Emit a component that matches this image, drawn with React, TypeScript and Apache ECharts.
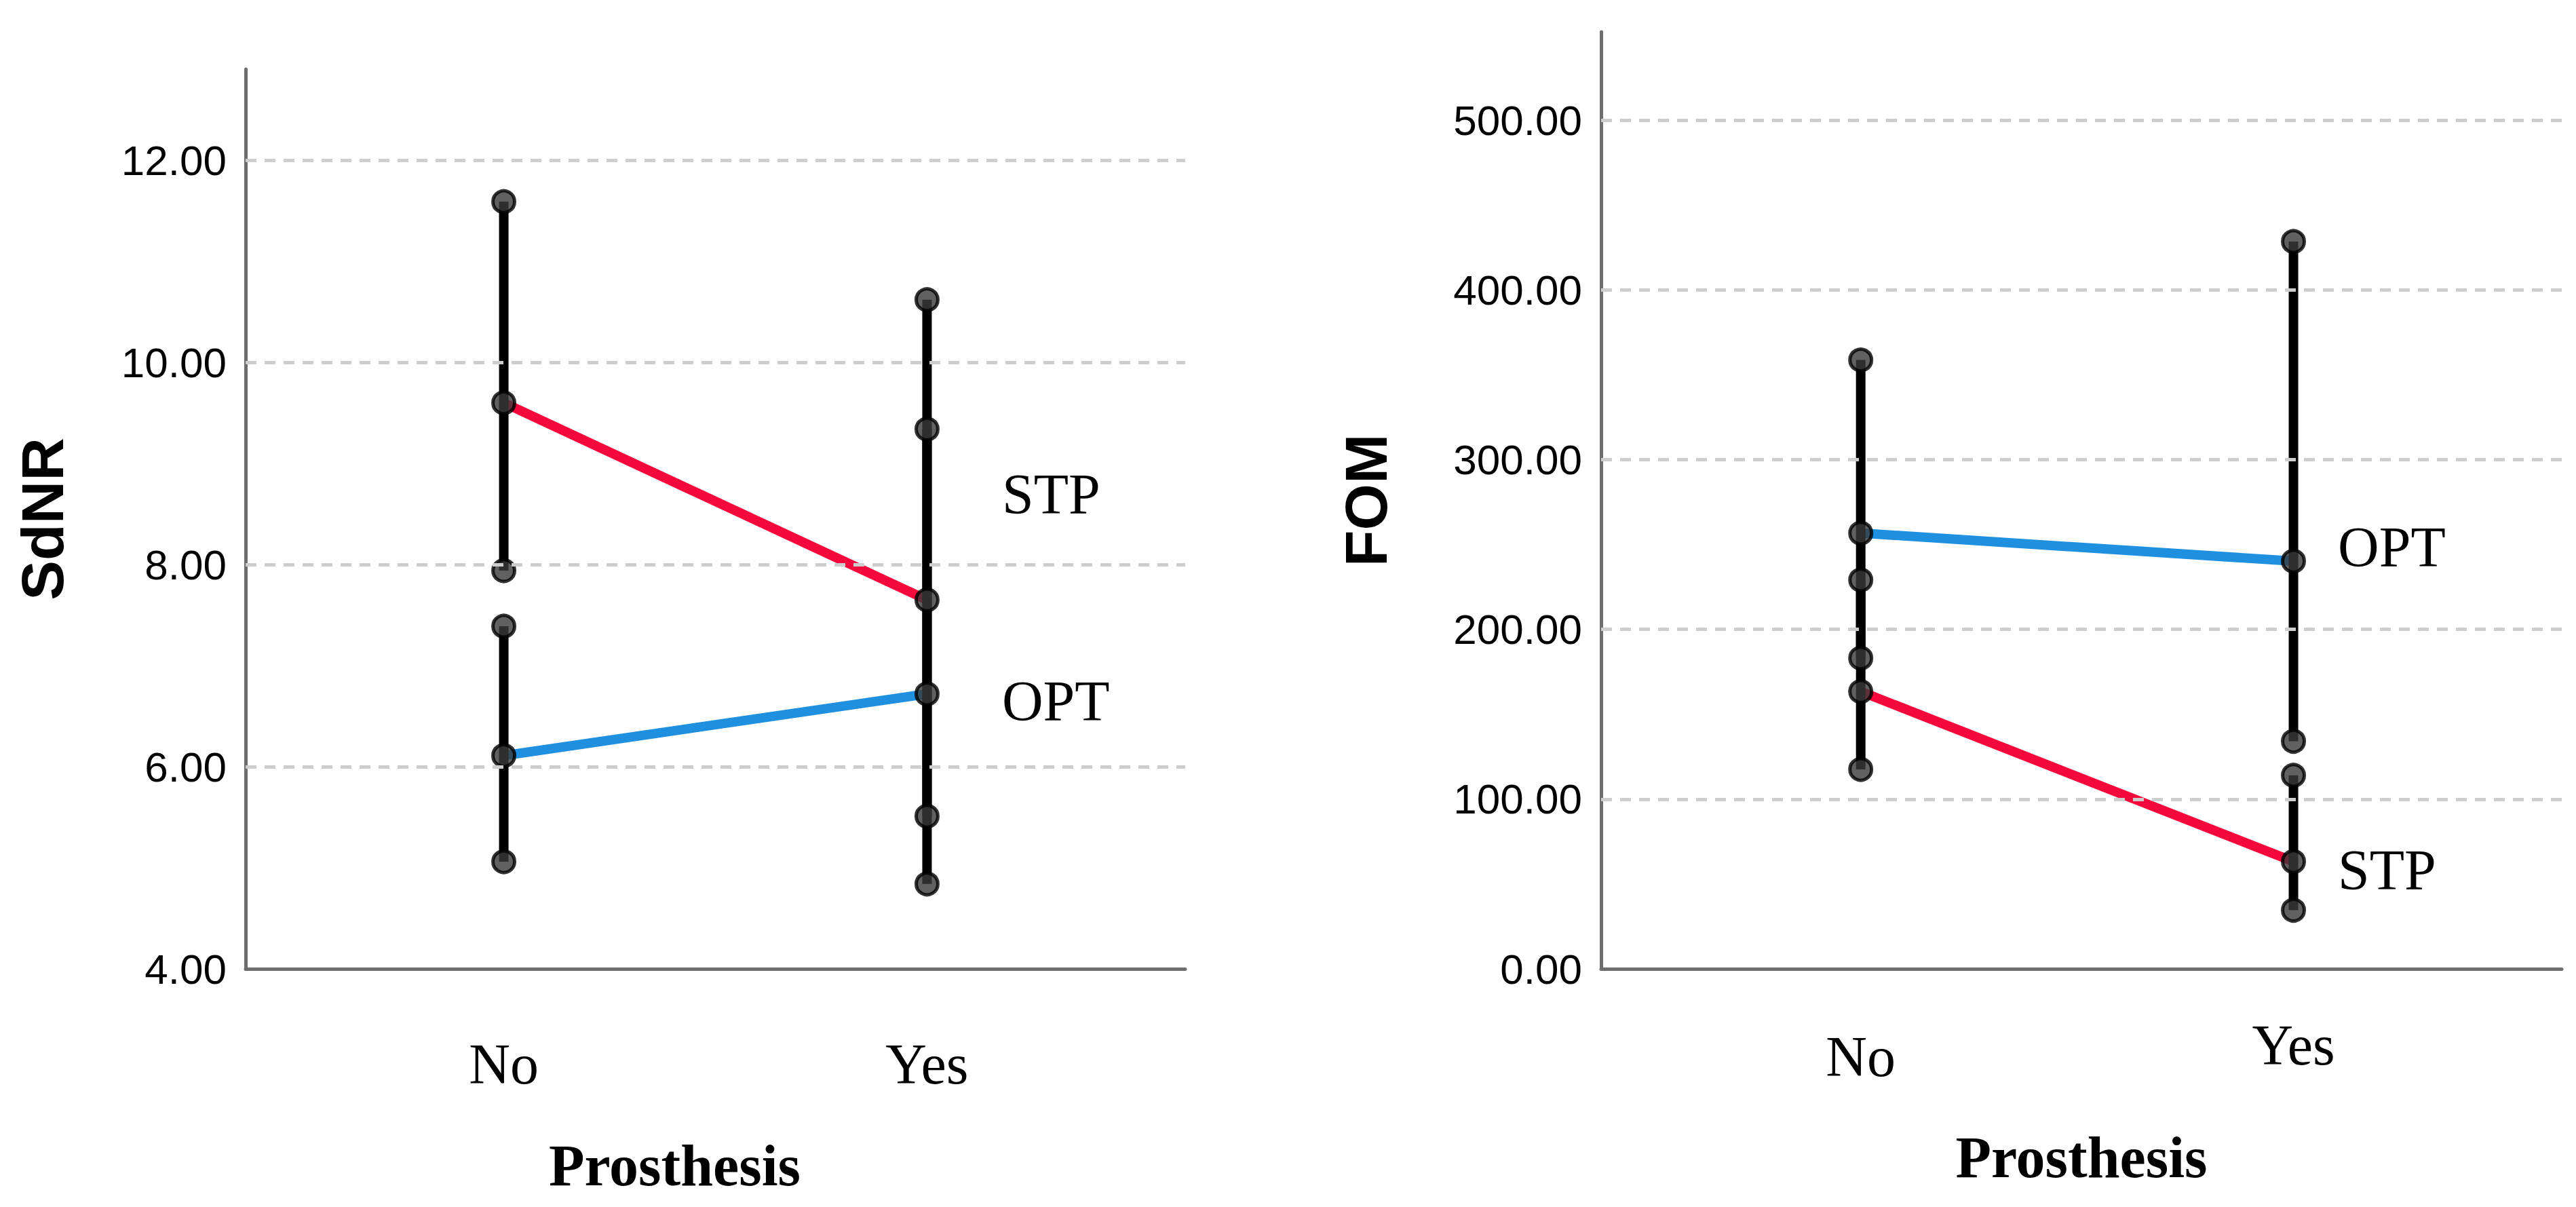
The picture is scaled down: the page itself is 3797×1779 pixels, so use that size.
import React, { useEffect, useRef } from "react";
import * as echarts from "echarts";

// ---- data ----
const groups = ["No", "Yes"];
const groupX = [0, 1];
const measureNames = ["STP", "OPT"];

// SdNR panel
const sdnrStpMean = [9.6, 7.65];
const sdnrStpLow = [7.94, 4.84];
const sdnrStpHigh = [11.59, 10.62];
const sdnrOptMean = [6.11, 6.72];
const sdnrOptLow = [5.06, 5.51];
const sdnrOptHigh = [7.39, 9.34];
const sdnrTicks = [4, 6, 8, 10, 12];

// FOM panel
const fomStpMean = [163.4, 63.2];
const fomStpLow = [117.5, 34.6];
const fomStpHigh = [229.1, 114.0];
const fomOptMean = [256.7, 240.2];
const fomOptLow = [183.1, 134.1];
const fomOptHigh = [358.7, 428.5];
const fomTicks = [0, 100, 200, 300, 400, 500];

const RED = "#f5093c";
const BLUE = "#1f8fe0";
const SANS = "Liberation Sans";
const SERIF = "Liberation Serif";

type Panel = {
  stp: number[][]; // [mean, low, high]
  opt: number[][];
  ticks: number[];
  yMin: number;
  yMax: number;
  xMin: number;
  xMax: number;
  yName: string;
  yNameGap: number;
  xNameGap: number;
  xNamePad: number[];
  labelMargin: number;
  noPadTop: number;
  stpOffset: number[];
  optOffset: number[];
};

function buildSeries(gi: number, p: Panel) {
  const series: any[] = [];
  // gridlines (above the minimum, where the axis line sits)
  series.push({
    type: "line",
    xAxisIndex: gi,
    yAxisIndex: gi,
    data: [[groupX[0], p.ticks[0]]],
    showSymbol: false,
    symbol: "none",
    silent: true,
    z: 1,
    lineStyle: { width: 0 },
    markLine: {
      silent: true,
      symbol: "none",
      label: { show: false },
      lineStyle: { color: "#cdcdcd", width: 5, type: [16, 12] },
      data: p.ticks.slice(1).map((v) => ({ yAxis: v })),
    },
  });
  const measures = [p.stp, p.opt];
  const colors = [RED, BLUE];
  // mean lines
  measures.forEach((m, mi) => {
    series.push({
      type: "line",
      xAxisIndex: gi,
      yAxisIndex: gi,
      data: groupX.map((x, i) => [x, m[0][i]]),
      symbol: "none",
      silent: true,
      z: 2,
      lineStyle: { color: colors[mi], width: 14 },
    });
  });
  // error bars
  measures.forEach((m) => {
    groupX.forEach((x, i) => {
      series.push({
        type: "line",
        xAxisIndex: gi,
        yAxisIndex: gi,
        data: [
          [x, m[1][i]],
          [x, m[2][i]],
        ],
        symbol: "none",
        silent: true,
        z: 3,
        lineStyle: { color: "#000", width: 14 },
      });
    });
  });
  // points
  const pts: number[][] = [];
  measures.forEach((m) => {
    groupX.forEach((x, i) => {
      pts.push([x, m[0][i]], [x, m[1][i]], [x, m[2][i]]);
    });
  });
  series.push({
    type: "scatter",
    xAxisIndex: gi,
    yAxisIndex: gi,
    data: pts,
    symbol: "circle",
    symbolSize: 32,
    silent: true,
    z: 4,
    itemStyle: { color: "#3a3a3a", borderColor: "#000", borderWidth: 5 },
  });
  // labels
  series.push({
    type: "scatter",
    xAxisIndex: gi,
    yAxisIndex: gi,
    symbolSize: 1,
    silent: true,
    z: 5,
    itemStyle: { color: "rgba(0,0,0,0)" },
    data: measures.map((m, mi) => ({
      value: [groupX[1], m[0][1]],
      label: {
        show: true,
        position: "right",
        formatter: measureNames[mi],
        offset: mi === 0 ? p.stpOffset : p.optOffset,
        fontFamily: SERIF,
        fontSize: 84,
        color: "#000",
        opacity: 1,
      },
    })),
  });
  return series;
}

const panels: Panel[] = [
  {
    stp: [sdnrStpMean, sdnrStpLow, sdnrStpHigh],
    opt: [sdnrOptMean, sdnrOptLow, sdnrOptHigh],
    ticks: sdnrTicks,
    yMin: 4,
    yMax: 12.9,
    xMin: -0.61,
    xMax: 1.61,
    yName: "SdNR",
    yNameGap: 256,
    xNameGap: 247,
    xNamePad: [0, 120, 0, 0],
    labelMargin: 98,
    noPadTop: 0,
    stpOffset: [105, -156],
    optOffset: [105, 11],
  },
  {
    stp: [fomStpMean, fomStpLow, fomStpHigh],
    opt: [fomOptMean, fomOptLow, fomOptHigh],
    ticks: fomTicks,
    yMin: 0,
    yMax: 552,
    xMin: -0.6,
    xMax: 1.62,
    yName: "FOM",
    yNameGap: 303,
    xNameGap: 235,
    xNamePad: [0, 0, 0, 0],
    labelMargin: 70,
    noPadTop: 17,
    stpOffset: [60, 13],
    optOffset: [60, -21],
  },
];

const grids = [
  { left: 362, top: 102, width: 1385, height: 1326 },
  { left: 2360, top: 47, width: 1416, height: 1381 },
];

export default function App() {
  const ref = useRef<HTMLDivElement>(null);
  useEffect(() => {
    document.body.style.margin = "0";
    if (!ref.current) return;
    const chart = echarts.init(ref.current, null, { renderer: "svg" });
    const option: any = {
      animation: false,
      backgroundColor: "#fff",
      grid: grids.map((g) => ({ ...g, containLabel: false, outerBoundsMode: "none" })),
      xAxis: panels.map((p, gi) => ({
        type: "value",
        gridIndex: gi,
        min: p.xMin,
        max: p.xMax,
        name: "Prosthesis",
        nameLocation: "middle",
        nameGap: p.xNameGap,
        nameTextStyle: {
          fontFamily: SERIF,
          fontWeight: "bold",
          fontSize: 86,
          color: "#000",
          padding: p.xNamePad,
        },
        axisLine: { show: true, onZero: false, lineStyle: { color: "#6e6e6e", width: 5 } },
        axisTick: { show: false },
        splitLine: { show: false },
        axisLabel: {
          customValues: groupX,
          margin: p.labelMargin,
          formatter: (v: number) => {
            const i = Math.round(v);
            return i === 0 ? "{n|" + groups[i] + "}" : "{y|" + groups[i] + "}";
          },
          rich: {
            n: { fontFamily: SERIF, fontSize: 84, color: "#000", padding: [p.noPadTop, 0, 0, 0] },
            y: { fontFamily: SERIF, fontSize: 84, color: "#000" },
          },
        },
      })),
      yAxis: panels.map((p, gi) => ({
        type: "value",
        gridIndex: gi,
        min: p.yMin,
        max: p.yMax,
        name: p.yName,
        nameLocation: "middle",
        nameGap: p.yNameGap,
        nameTextStyle: { fontFamily: SANS, fontWeight: "bold", fontSize: 88, color: "#000" },
        axisLine: { show: true, onZero: false, lineStyle: { color: "#6e6e6e", width: 5 } },
        axisTick: { show: false },
        splitLine: { show: false },
        axisLabel: {
          customValues: p.ticks,
          margin: 28,
          fontFamily: SANS,
          fontSize: 62,
          color: "#000",
          formatter: (v: number) => v.toFixed(2),
        },
      })),
      series: [...buildSeries(0, panels[0]), ...buildSeries(1, panels[1])],
    };
    chart.setOption(option);
    return () => chart.dispose();
  }, []);
  return <div ref={ref} style={{ width: 3797, height: 1779 }} />;
}
